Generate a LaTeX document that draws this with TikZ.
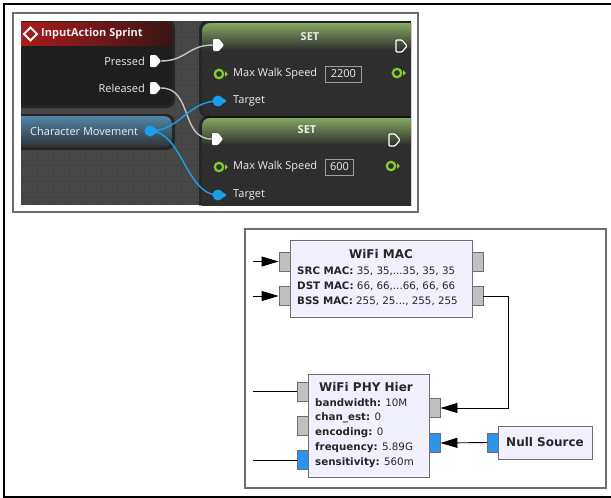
\documentclass[tikz,border=0pt]{standalone}
\usepackage{fontspec}
\setmainfont{DejaVu Sans}
\newfontfamily\uefont{Open Sans}
\usetikzlibrary{arrows.meta}
\definecolor{uebg}{HTML}{474747}
\definecolor{uegrid}{HTML}{414141}
\definecolor{uedark}{HTML}{1E1E1E}
\definecolor{ueset}{HTML}{2E2E2E}
\definecolor{uehdrL}{HTML}{B01C1C}
\definecolor{uehdrR}{HTML}{3A1414}
\definecolor{uegrn}{HTML}{86CF2A}
\definecolor{uegrnhdr}{HTML}{86A862}
\definecolor{ueblu}{HTML}{1AA0EA}
\definecolor{uewire}{HTML}{C4C4C4}
\definecolor{uetxt}{HTML}{EDEDED}
\definecolor{cmtop}{HTML}{4F86A8}
\definecolor{cmbot}{HTML}{303236}
\definecolor{grcfill}{HTML}{F0F0FF}
\definecolor{grcport}{HTML}{C0C0C0}
\definecolor{grcblue}{HTML}{2C94EA}
\definecolor{grcedge}{HTML}{6E6E6E}
\begin{document}
\begin{tikzpicture}[x=1pt,y=-1pt,
  uetext/.style={text=uetxt, font=\uefont\fontsize{11}{13}\selectfont, inner sep=0pt},
  uebold/.style={uetext, font=\uefont\bfseries\fontsize{11}{13}\selectfont},
  uebox/.style={draw=gray!75, line width=0.9pt, text=uetxt, font=\uefont\fontsize{11}{13}\selectfont, inner sep=0pt},
  wiregray/.style={draw=uewire, line width=1.4pt},
  wireblue/.style={draw=ueblu, line width=1.4pt},
  execpin/.pic={\fill[white, rounded corners=1pt] (-5,-6) -- (1,-6) -- (6,0) -- (1,6) -- (-5,6) -- cycle;},
  execout/.pic={\draw[white, line width=1.2pt, rounded corners=1pt] (-5,-6) -- (1,-6) -- (6,0) -- (1,6) -- (-5,6) -- cycle;},
  greenpin/.pic={\draw[uegrn, line width=2.2pt, fill=black!80] (0,0) circle (4.2); \fill[uegrn] (6,-2.8) -- (9,0) -- (6,2.8) -- cycle;},
  bluepin/.pic={\fill[ueblu] (0,0) circle (5.5); \fill[ueblu] (4.5,-3.2) -- (8.5,0) -- (4.5,3.2) -- cycle;},
  grcblk/.style={draw=grcedge, fill=grcfill, line width=0.9pt, inner sep=0pt, anchor=north west},
  grcport/.style={draw=grcedge, fill=grcport, line width=0.9pt, minimum width=11pt, minimum height=19pt, inner sep=0pt},
  grcbport/.style={grcport, fill=grcblue},
  grctext/.style={text=black!85, font=\fontsize{10.3}{12}\selectfont, inner sep=0pt, anchor=west},
  grctitle/.style={text=black!85, font=\bfseries\fontsize{12}{14}\selectfont, inner sep=0pt},
  grcline/.style={draw=black, line width=0.9pt},
  grcarrow/.style={grcline, -{Triangle[length=17pt,width=10pt]}},
]
\useasboundingbox (0,0) rectangle (611,498);
\fill[white] (0,0) rectangle (611,498);
% outer frame
\draw[line width=2pt] (613,4) -- (4,4) -- (4,497) -- (613,497);
% top panel
\draw[gray!85!black, line width=1.3pt] (13,13) rectangle (418,212);
\begin{scope}
\clip (21,21) rectangle (411,205);
\fill[uebg] (21,21) rectangle (411,205);
\foreach \g in {21,37,...,411} \draw[uegrid, line width=0.5pt] (\g,21) -- (\g,205);
\foreach \g in {21,37,...,205} \draw[uegrid, line width=0.5pt] (21,\g) -- (411,\g);
% InputAction node
\fill[black, opacity=0.45, rounded corners=8pt] (10,19) rectangle (175,108);
\begin{scope}
\clip[rounded corners=6pt] (12,22) rectangle (172,105);
\fill[uedark] (12,22) rectangle (172,105);
\shade[left color=uehdrL, right color=uehdrR] (12,22) rectangle (172,45);
\end{scope}
\draw[white, line width=1.8pt] (24,34) -- (30.5,27.5) -- (37,34) -- (30.5,40.5) -- cycle;
\node[uebold, anchor=west] (iatitle) at (41,34) {InputAction Sprint};
\node[uetext, anchor=east] (pressedlbl) at (145,61) {Pressed};
\node[uetext, anchor=east] (releasedlbl) at (145,88) {Released};
% Character Movement node
\fill[black, opacity=0.45, rounded corners=9pt] (10,114) rectangle (175,150);
\begin{scope}
\clip[rounded corners=8pt] (12,116) rectangle (172,147);
\shade[top color=cmtop, bottom color=cmbot] (12,116) rectangle (172,147);
\end{scope}
\node[uetext, anchor=west] (cmlbl) at (30,131) {Character Movement};
% SET 1
\fill[black, opacity=0.45, rounded corners=9pt] (199,20) rectangle (430,118);
\begin{scope}
\clip[rounded corners=8pt] (202,23) rectangle (425,116);
\fill[ueset] (202,23) rectangle (425,116);
\shade[top color=uegrnhdr, bottom color=ueset] (202,23) rectangle (425,50);
\end{scope}
% SET 2
\fill[black, opacity=0.45, rounded corners=9pt] (199,116) rectangle (430,215);
\begin{scope}
\clip[rounded corners=8pt] (202,118) rectangle (425,215);
\fill[ueset] (202,118) rectangle (425,215);
\shade[top color=uegrnhdr, bottom color=ueset] (202,118) rectangle (425,145);
\end{scope}
\node[uebold] (set1title) at (310,37) {SET};
\node[uetext, anchor=west] (mws1) at (233,74) {Max Walk Speed};
\node[uebox, minimum width=36pt, minimum height=16pt, anchor=west] (val1) at (325,74) {2200};
\node[uetext, anchor=west] (tgt1) at (233,101) {Target};
\node[uebold] (set2title) at (307,130) {SET};
\node[uetext, anchor=west] (mws2) at (233,167) {Max Walk Speed};
\node[uebox, minimum width=28pt, minimum height=16pt, anchor=west] (val2) at (325,167) {600};
\node[uetext, anchor=west] (tgt2) at (233,195) {Target};
% pin positions
\coordinate (pressedpin) at (155,61);
\coordinate (releasedpin) at (155,88);
\coordinate (cmpin) at (150,131);
\coordinate (set1exin) at (218,45);
\coordinate (set1exout) at (401,46);
\coordinate (set1mwsin) at (219,74);
\coordinate (set1mwsout) at (397,73);
\coordinate (set1tgt) at (218,101);
\coordinate (set2exin) at (217,139);
\coordinate (set2exout) at (394,140);
\coordinate (set2mwsin) at (219,167);
\coordinate (set2mwsout) at (391,166);
\coordinate (set2tgt) at (218,195);
% wires
\draw[wiregray] ([xshift=6pt]pressedpin) .. controls +(25,0) and +(-25,0) .. ([xshift=-5pt]set1exin);
\draw[wiregray] ([xshift=6pt]releasedpin) .. controls +(32,0) and +(-32,0) .. ([xshift=-5pt]set2exin);
\draw[wireblue] (cmpin) .. controls +(30,0) and +(-30,0) .. (set1tgt);
\draw[wireblue] (cmpin) .. controls +(32,0) and +(-32,0) .. (set2tgt);
% pins
\pic at (pressedpin) {execpin};
\pic at (releasedpin) {execpin};
\pic at (cmpin) {bluepin};
\pic at (set1exin) {execpin};
\pic at (set1exout) {execout};
\pic at (set1mwsin) {greenpin};
\pic at (set1mwsout) {greenpin};
\pic at (set1tgt) {bluepin};
\pic at (set2exin) {execpin};
\pic at (set2exout) {execout};
\pic at (set2mwsin) {greenpin};
\pic at (set2mwsout) {greenpin};
\pic at (set2tgt) {bluepin};
\end{scope}
% bottom panel
\draw[grcedge, line width=1.2pt] (245,229) rectangle (606,488);
% WiFi MAC
\node[grcblk, minimum width=182pt, minimum height=77pt] (mac) at (290,240) {};
\node[grcport] (macin1) at (284.5,261.5) {};
\node[grcport] (macin2) at (284.5,296) {};
\node[grcport] (macout1) at (477.5,261.5) {};
\node[grcport] (macout2) at (477.5,296) {};
\node[grctitle] (mactitle) at (381,254) {WiFi MAC};
\node[grctext] (macsrc) at (297,271) {\textbf{SRC MAC:} 35, 35,...35, 35, 35};
\node[grctext] (macdst) at (297,286) {\textbf{DST MAC:} 66, 66,...66, 66, 66};
\node[grctext] (macbss) at (297,301) {\textbf{BSS MAC:} 255, 25..., 255, 255};
\coordinate (macfeedA) at (253,261.5);
\coordinate (macfeedB) at (253,296);
\draw[grcarrow] (macfeedA) -- (macin1.west);
\draw[grcarrow] (macfeedB) -- (macin2.west);
% WiFi PHY Hier
\node[grcblk, minimum width=121pt, minimum height=103pt] (phy) at (308,374) {};
\node[grcport] (phyin1) at (302.5,391.5) {};
\node[grcport] (phyin2) at (302.5,426) {};
\node[grcbport] (phyin3) at (302.5,460) {};
\node[grcport] (phyout1) at (434.5,408) {};
\node[grcbport] (phyout2) at (434.5,443) {};
\node[grctitle] (phytitle) at (366,387) {WiFi PHY Hier};
\node[grctext] (phybw) at (315,403) {\textbf{bandwidth:} 10M};
\node[grctext] (phyce) at (315,418) {\textbf{chan\_est:} 0};
\node[grctext] (phyenc) at (315,433) {\textbf{encoding:} 0};
\node[grctext] (phyfreq) at (315,448) {\textbf{frequency:} 5.89G};
\node[grctext] (physens) at (315,463) {\textbf{sensitivity:} 560m};
\coordinate (phyfeedA) at (253,391.5);
\coordinate (phyfeedB) at (253,460);
\draw[grcline] (phyfeedA) -- (phyin1.west);
\draw[grcline] (phyfeedB) -- (phyin3.west);
% Null Source
\node[grcblk, minimum width=94pt, minimum height=33pt] (null) at (498,426) {};
\node[grcbport] (nullout) at (493,442.5) {};
\node[grctitle] (nulltitle) at (545,442) {Null Source};
% connections
\coordinate (macbend) at (508,408);
\draw[grcarrow] (macout2.east) -| (macbend) -- (phyout1.east);
\draw[grcarrow] (nullout.west) -- (phyout2.east);
\end{tikzpicture}
\end{document}
